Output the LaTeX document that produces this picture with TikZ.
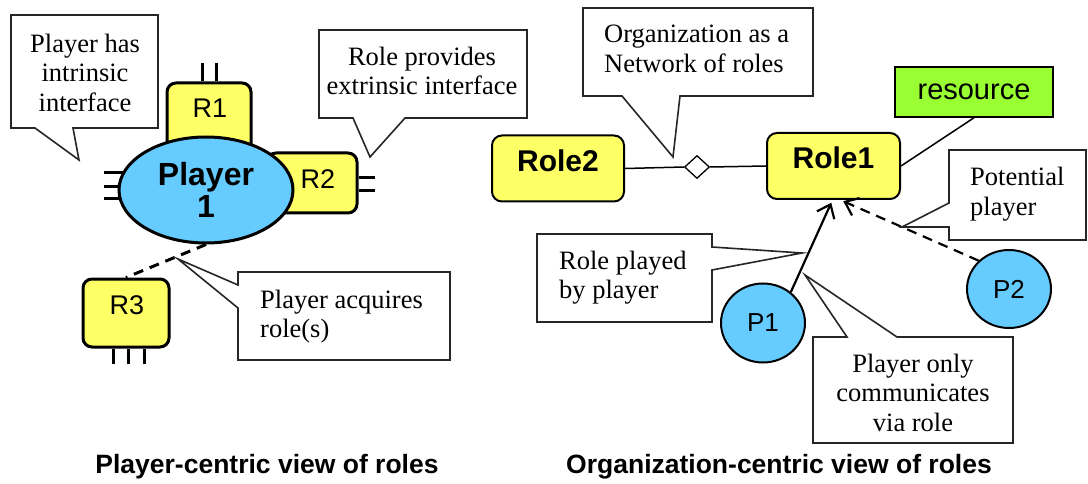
\documentclass[tikz,border=0pt]{standalone}
\usepackage{fontspec}
\setmainfont{Liberation Serif}
\setsansfont{Liberation Sans}
\usetikzlibrary{shapes.geometric,arrows.meta,calc}
\definecolor{roleyellow}{HTML}{FFFF66}
\definecolor{playerblue}{HTML}{66CCFF}
\definecolor{resgreen}{HTML}{99FF33}

\begin{document}
\begin{tikzpicture}[x=1pt,y=-1pt,
  note/.style={font=\fontsize{26.5}{29.5}\selectfont, inner sep=0pt},
  bubble/.style={draw=black!85, line width=1.6pt, fill=white, line join=miter},
  rolebox/.style={draw, line width=3pt, fill=roleyellow, rounded corners=9pt, inner sep=0pt},
  rolelabel/.style={font=\sffamily\fontsize{27}{27}\selectfont, inner sep=0pt},
  orgrole/.style={draw, line width=2pt, fill=roleyellow, rounded corners=10pt,
    minimum width=132pt, minimum height=66pt, inner sep=0pt, text depth=16pt,
    font=\sffamily\bfseries\fontsize{30}{30}\selectfont},
  player/.style={ellipse, draw, fill=playerblue, line width=2pt, inner sep=0pt,
    font=\sffamily\fontsize{26}{26}\selectfont},
  lead/.style={line width=3pt},
  link/.style={line width=1.5pt},
  caption/.style={font=\sffamily\bfseries\fontsize{26.5}{26.5}\selectfont, inner sep=0pt},
  reach/.style={line width=2.2pt, -{Straight Barb[length=12pt,width=19pt,line width=2.2pt]}, shorten >=3pt},
  dashes/.style={dash pattern=on 10pt off 7pt},
]
\fill[white] (0,0) rectangle (1088,484);
\useasboundingbox (0,0) rectangle (1088,484);

% ---------- player-centric view ----------
% intrinsic interface leads on the left of the player
\draw[lead] (104,173) -- (125,173) (104,187) -- (122,187) (104,199) -- (124,199);

\node[rolebox, minimum width=84pt, minimum height=70pt] (r1box) at (209,118) {};
\draw[lead] ($(r1box.north)+(-7,0)$) -- ++(0,-18) ($(r1box.north)+(7,0)$) -- ++(0,-18);

\node[rolebox, minimum width=90pt, minimum height=60pt] (r2box) at (312,183) {};
\draw[lead] ($(r2box.east)+(0,-5)$) -- ++(16,0) ($(r2box.east)+(0,8)$) -- ++(16,0);

\node[ellipse, draw, line width=3pt, fill=playerblue, minimum width=174pt, minimum height=106pt,
  inner sep=0pt, align=center, font=\sffamily\bfseries\fontsize{32}{32}\selectfont]
  (pl) at (206,190) {Player\\1};

\node[rolelabel] (r1t) at (210,108) {R1};
\node[rolelabel] (r2t) at (318,179) {R2};

\node[rolebox, minimum width=86pt, minimum height=68pt] (r3box) at (126,313) {};
\node[rolelabel] (r3t) at (127,305) {R3};
\draw[lead] ($(r3box.south)+(-13,0)$) -- ++(0,15)
            ($(r3box.south)+(2,0)$) -- ++(0,15)
            ($(r3box.south)+(18,0)$) -- ++(0,15);

\draw[lead, dashes] (pl.south) -- (r3box.north);

% callouts
\draw[bubble] (11,15) -- (158,15) -- (158,128) -- (73,128) -- (79,160) -- (35,128) -- (11,128) -- cycle;
\node[note, align=center] (t1) at (85,72.5) {Player has\\intrinsic\\interface};

\draw[bubble] (319,30) -- (527,30) -- (527,118) -- (405,118) -- (370,157) -- (353,118) -- (319,118) -- cycle;
\node[note, align=center] (t2) at (422,71) {Role provides\\extrinsic interface};

\draw[bubble] (238,272) -- (450,272) -- (450,360) -- (238,360) -- (238,308) -- (178,259) -- (238,285) -- cycle;
\node[note, align=left, anchor=west] (t3) at (260,316.5) {Player acquires\\role(s)};

% ---------- organization-centric view ----------
\node[orgrole] (role2) at (558,168.5) {Role2};
\node[orgrole, minimum width=133pt] (role1) at (833.5,166) {Role1};
\node[diamond, draw, fill=white, line width=1.3pt, minimum width=25pt, minimum height=23pt, inner sep=0pt] (dia) at (697,167) {};
\draw[link] (role2.east) -- (dia.west);
\draw[link] (dia.east) -- (role1.west);

\node[draw, line width=1.5pt, fill=resgreen, minimum width=158pt, minimum height=50pt, inner sep=0pt,
  font=\sffamily\fontsize{29}{29}\selectfont] (res) at (974,92) {resource};
\draw[link] (role1.east) -- (res.south);

\node[player, minimum width=84pt, minimum height=79pt] (p1) at (763,323) {P1};
\node[player, minimum width=84pt, minimum height=78pt] (p2) at (1009,289) {P2};

\draw[reach] (p1.48) -- ($(role1.south)+(-1,0)$);
\draw[reach, dashes] (p2.137) -- ($(role1.south)+(7,0)$);

% callouts
\draw[bubble] (583,8) -- (813,8) -- (813,96) -- (680,96) -- (673,157) -- (622,96) -- (583,96) -- cycle;
\node[note, align=left, anchor=west] (t4) at (604,49) {Organization as a\\Network of roles};

\draw[bubble] (949,150) -- (1086,150) -- (1086,240) -- (949,240) -- (949,227) -- (902,227) -- (949,203) -- cycle;
\node[note, align=left, anchor=west] (t5) at (970,194) {Potential\\player};

\draw[bubble] (537,234) -- (712,234) -- (712,247) -- (802,253) -- (712,270) -- (712,322) -- (537,322) -- cycle;
\node[note, align=left, anchor=west] (t6) at (559,277.5) {Role played\\by player};

\draw[bubble] (813,337) -- (847,337) -- (805,275) -- (897,337) -- (1013,337) -- (1013,443) -- (813,443) -- cycle;
\node[note, align=center] (t7) at (913,392.5) {Player only\\communicates\\via role};

% captions
\node[caption, anchor=base] (cap1) at (267,473) {Player-centric view of roles};
\node[caption, anchor=base] (cap2) at (779,473) {Organization-centric view of roles};
\end{tikzpicture}
\end{document}
